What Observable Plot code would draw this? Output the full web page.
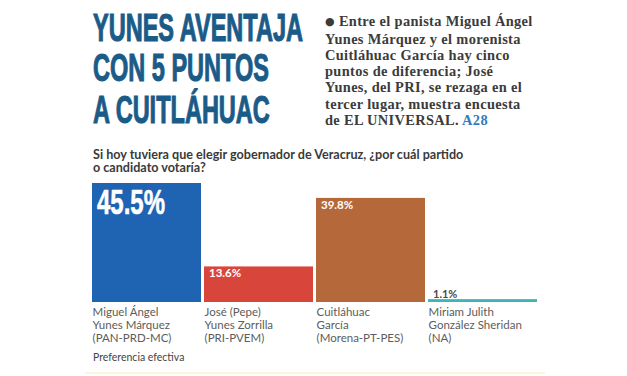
<!DOCTYPE html>
<html><head><meta charset="utf-8">
<script src="https://cdn.jsdelivr.net/npm/d3@7"></script>
<script src="https://cdn.jsdelivr.net/npm/@observablehq/plot@0.6"></script>
<style>
body{margin:0;background:#fff;}
#wrap{position:relative;width:627px;height:376px;overflow:hidden;background:#fff;}
.hl{position:absolute;left:93px;font-family:"Liberation Sans Narrow","Liberation Sans",Arial,sans-serif;font-weight:700;font-size:38px;line-height:37px;color:#1b5b88;-webkit-text-stroke:1.1px #1b5b88;white-space:nowrap;transform-origin:0 0;}
#lede{position:absolute;left:325px;top:12.5px;font-family:"Liberation Serif","Times New Roman",serif;font-weight:700;font-size:14.4px;letter-spacing:0.35px;line-height:16.2px;color:#3b3b3b;white-space:nowrap;}
#lede .dot{font-family:"DejaVu Sans",sans-serif;font-size:11px;position:relative;top:-1px;}
#lede .ref{color:#2f7cbf;}
.q{position:absolute;left:93px;height:13px;font-family:Lato,sans-serif;font-weight:700;font-size:12.6px;line-height:13px;color:#3a3a3a;white-space:nowrap;}
#chart{position:absolute;left:0;top:178px;}
#note{position:absolute;left:93px;top:350.6px;font-family:Lato,sans-serif;font-size:10.5px;line-height:12px;color:#444;}
#rule{position:absolute;left:85px;top:372px;width:460px;height:2px;background:#fbf5e0;}
</style></head><body>
<div id="wrap">
  <div class="hl" id="h1" style="top:10.2px">YUNES AVENTAJA</div>
  <div class="hl" id="h2" style="top:49.7px">CON 5 PUNTOS</div>
  <div class="hl" id="h3" style="top:92.2px">A CUITLÁHUAC</div>
  <div id="lede"><span class="dot">●</span> Entre el panista Miguel Ángel<br>Yunes Márquez y el morenista<br>Cuitláhuac García hay cinco<br>puntos de diferencia; José<br>Yunes, del PRI, se rezaga en el<br>tercer lugar, muestra encuesta<br>de EL UNIVERSAL. <span class="ref">A28</span></div>
  <div class="q" style="top:147.6px">Si hoy tuviera que elegir gobernador de Veracruz, ¿por cuál partido</div>
  <div class="q" style="top:161.1px">o candidato votaría?</div>
  <div id="chart"></div>
  <div id="note">Preferencia efectiva</div>
  <div id="rule"></div>
</div>
<script>
// ---- data ----
const candidates = ["Miguel Ángel Yunes Márquez", "José (Pepe) Yunes Zorrilla", "Cuitláhuac García", "Miriam Julith González Sheridan"];
const nameLine1 = ["Miguel Ángel", "José (Pepe)", "Cuitláhuac", "Miriam Julith"];
const nameLine2 = ["Yunes Márquez", "Yunes Zorrilla", "García", "González Sheridan"];
const parties = ["(PAN-PRD-MC)", "(PRI-PVEM)", "(Morena-PT-PES)", "(NA)"];
const values = [45.5, 13.6, 39.8, 1.1];
const valueLabels = ["45.5%", "13.6%", "39.8%", "1.1%"];
const barColors = ["#1f63b3", "#d8463b", "#b5693b", "#3fb5b8"];

// headline width
const h1 = document.getElementById("h1");
const s = 210 / h1.getBoundingClientRect().width;
for (const id of ["h1","h2","h3"]) document.getElementById(id).style.transform = `scaleX(${s})`;

const data = candidates.map((c, i) => ({c, v: values[i], label: valueLabels[i], color: barColors[i]}));
const tickText = new Map(candidates.map((c, i) => [c, `${nameLine1[i]}\n${nameLine2[i]}\n${parties[i]}`]));

const chart = Plot.plot({
  width: 627, height: 198,
  marginLeft: 92, marginRight: 90, marginTop: 5, marginBottom: 74,
  style: {fontFamily: "Lato, sans-serif", color: "#5c5c5c", background: "transparent", overflow: "visible"},
  x: {domain: candidates, paddingInner: 0.03, paddingOuter: 0},
  y: {domain: [0, 45.5], axis: null},
  marks: [
    Plot.barY(data, {x: "c", y: "v", fill: "color"}),
    Plot.axisX({tickSize: 0, tickPadding: 4, textAnchor: "start", dx: -54.4, fontSize: 11.5, lineHeight: 1.13, tickFormat: d => tickText.get(d), label: null}),
    Plot.text(data.filter(d => d.v > 40), {x: "c", y: "v", text: "label", textAnchor: "start", lineAnchor: "top", dx: -50, dy: 6,
      fill: "white", fontSize: 35, fontWeight: 700, stroke: "white", strokeWidth: 0.6, fontFamily: "'Liberation Sans Narrow', 'Liberation Sans', sans-serif"}),
    Plot.text(data.filter(d => d.v > 5 && d.v < 40), {x: "c", y: "v", text: "label", textAnchor: "start", lineAnchor: "top", dx: -50, dy: 2.3,
      fill: "white", fontSize: 11.5, fontWeight: 700}),
    Plot.text(data.filter(d => d.v < 5), {x: "c", y: "v", text: "label", textAnchor: "start", lineAnchor: "bottom", dx: -50, dy: -2,
      fill: "#4a4a4a", fontSize: 11, fontWeight: 700})
  ]
});
document.getElementById("chart").append(chart);

// condense the big value label horizontally, like the newspaper's condensed face
for (const t of chart.querySelectorAll("text")) {
  if (t.textContent === valueLabels[0]) {
    const b = t.getBBox();
    const k = 68 / b.width;
    const old = t.getAttribute("transform") || "";
    t.setAttribute("transform", `${old} translate(${b.x},0) scale(${k},1) translate(${-b.x},0)`);
  }
}
</script>
</body></html>
